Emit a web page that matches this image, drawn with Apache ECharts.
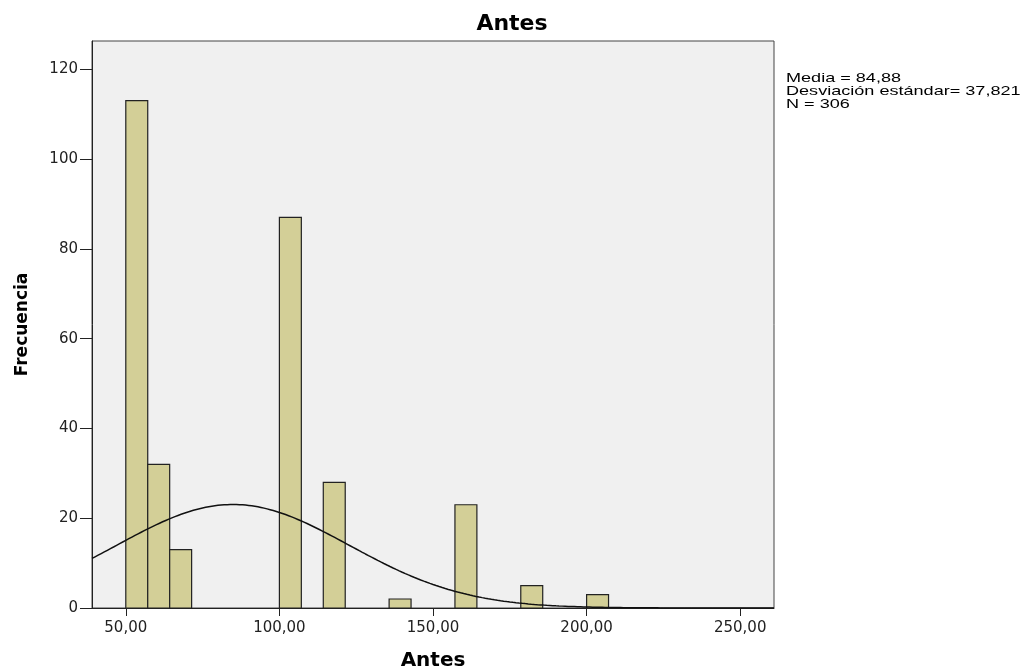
<!DOCTYPE html>
<html>
<head>
<meta charset="UTF-8">
<title>Antes</title>
<script src="https://cdn.jsdelivr.net/npm/echarts@6/dist/echarts.min.js"></script>
<style>
  html, body { margin: 0; padding: 0; background: #fff; }
  #main { width: 1024px; height: 670px; }
</style>
</head>
<body>
<div id="main"></div>
<script>
// histogram bins (width 50/7, starting at 50)
var binStart = 50;
var binWidth = 50 / 7;
var binIndex = [0, 1, 2, 7, 9, 12, 15, 18, 21];
var counts = [113, 32, 13, 87, 28, 2, 23, 5, 3];

// summary shown on the right
var media = 84.88;
var desv = 37.821;
var n = 306;

var xTicks = [50, 100, 150, 200, 250];
var yTicks = [0, 20, 40, 60, 80, 100, 120];

var bars = binIndex.map(function (b, i) {
  var lo = binStart + b * binWidth;
  return [lo, lo + binWidth, counts[i]];
});

// normal curve fitted with the mean / sd above
var curve = [];
for (var x = 39; x <= 261; x += 1) {
  var z = (x - media) / desv;
  curve.push([x, n * binWidth * Math.exp(-z * z / 2) / (desv * Math.sqrt(2 * Math.PI))]);
}

var chart = echarts.init(document.getElementById('main'));
chart.setOption({
  animation: false,
  title: {
    text: 'Antes',
    left: 'center',
    top: 8,
    textStyle: { fontFamily: 'DejaVu Sans', fontSize: 22, fontWeight: 'bold', color: '#000' }
  },
  grid: {
    left: 92, right: 250, top: 41, bottom: 62,
    outerBoundsMode: 'none', containLabel: false,
    show: true, backgroundColor: '#f0f0f0', borderColor: '#444', borderWidth: 1
  },
  xAxis: {
    type: 'value', min: 39, max: 261,
    name: 'Antes', nameLocation: 'middle', nameGap: 43,
    nameTextStyle: { fontFamily: 'DejaVu Sans', fontSize: 20, fontWeight: 'bold', color: '#000' },
    axisLine: { show: true, onZero: false, lineStyle: { color: '#222' } },
    axisTick: { show: true, length: 8, customValues: xTicks, lineStyle: { color: '#222' } },
    axisLabel: {
      customValues: xTicks, margin: 13, color: '#222', fontFamily: 'DejaVu Sans', fontSize: 15,
      formatter: function (v) { return v.toFixed(2).replace('.', ','); }
    },
    splitLine: { show: false }
  },
  yAxis: {
    type: 'value', min: 0, max: 126.3,
    name: 'Frecuencia', nameLocation: 'middle', nameGap: 61, nameRotate: 90,
    nameTextStyle: { fontFamily: 'DejaVu Sans', fontSize: 17, fontWeight: 'bold', color: '#000' },
    axisLine: { show: true, lineStyle: { color: '#222' } },
    axisTick: { show: true, length: 12, customValues: yTicks, lineStyle: { color: '#222' } },
    axisLabel: { customValues: yTicks, margin: 14, color: '#222', fontFamily: 'DejaVu Sans', fontSize: 15 },
    splitLine: { show: false }
  },
  graphic: [{
    type: 'text', left: 786, top: 72, scaleX: 1.39,
    style: {
      text: 'Media = ' + media.toFixed(2).replace('.', ',') +
            '\nDesviación estándar= ' + desv.toFixed(3).replace('.', ',') +
            '\nN = ' + n,
      font: '13px "Liberation Sans", Arial, sans-serif',
      lineHeight: 13, fill: '#000'
    }
  }],
  series: [{
    type: 'custom',
    data: bars,
    encode: { x: [0, 1], y: 2 },
    renderItem: function (params, api) {
      var p0 = api.coord([api.value(0), 0]);
      var p1 = api.coord([api.value(1), api.value(2)]);
      return {
        type: 'rect',
        shape: { x: p0[0], y: p1[1], width: p1[0] - p0[0], height: p0[1] - p1[1] },
        style: { fill: '#d3cf97', stroke: '#222', lineWidth: 1.2 }
      };
    }
  }, {
    type: 'line',
    data: curve,
    showSymbol: false,
    lineStyle: { color: '#111', width: 1.5 },
    z: 5
  }]
});
</script>
</body>
</html>
